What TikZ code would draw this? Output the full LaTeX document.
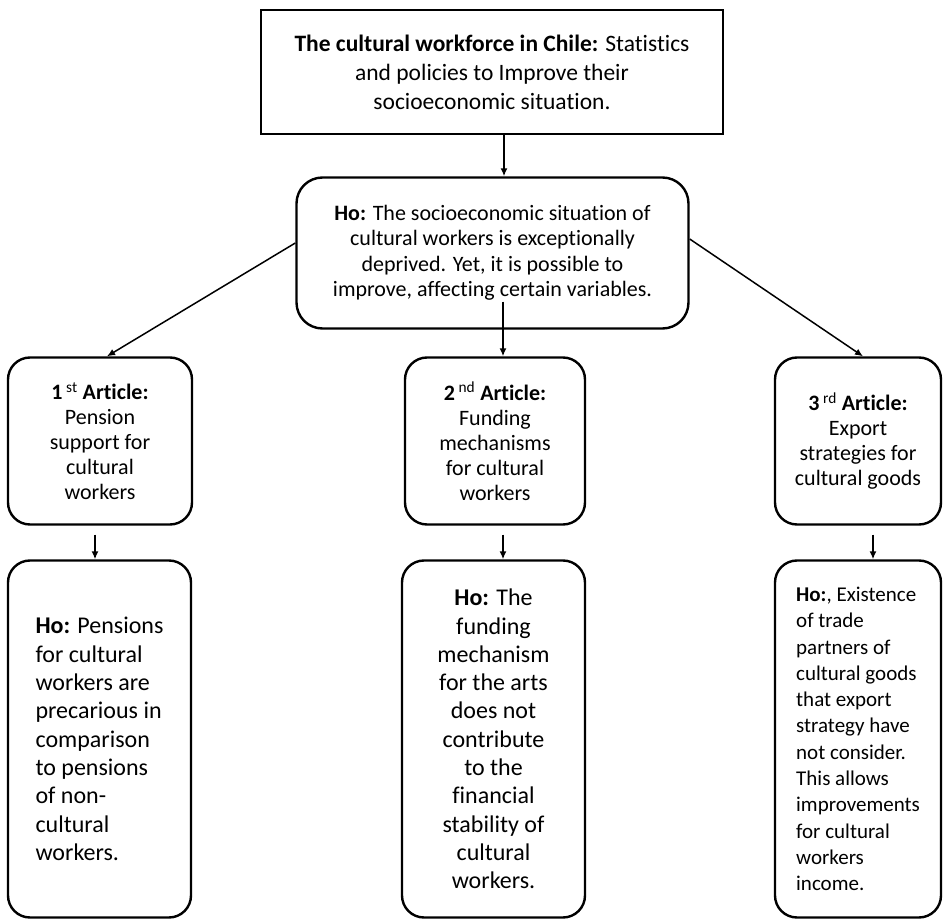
\documentclass[tikz,border=0pt]{standalone}
\usepackage{fontspec}
\setmainfont{Carlito}[Ligatures=NoCommon]
\usepackage{tikz}
\usetikzlibrary{calc}
\usetikzlibrary{arrows.meta}

\begin{document}
\begin{tikzpicture}[x=1pt,y=-1pt,
        box/.style={draw, line width=2.4pt, inner sep=0pt, align=center},
        rbox/.style={box, rounded corners=22pt},
        arr/.style={-{Latex[length=8pt,width=7pt]}, line width=1.5pt}]
    \useasboundingbox (0,0) rectangle (946,920);
    % title and main hypothesis
    \node[box, minimum width=462pt, minimum height=124pt,
          font=\fontsize{23.5}{29}\selectfont] (top) at (492,72)
         {\textbf{The cultural workforce in Chile:} Statistics\\and policies to Improve their\\socioeconomic situation.};
    \node[rbox, rounded corners=26pt, minimum width=392pt, minimum height=151pt,
          font=\fontsize{22}{25.5}\selectfont] (ho) at (492.5,253)
         {\textbf{Ho:} The socioeconomic situation of\\cultural workers is exceptionally\\deprived. Yet, it is possible to\\improve, affecting certain variables.};
    % articles
    \node[rbox, minimum width=184pt, minimum height=167pt,
          font=\fontsize{22}{25}\selectfont] (art1) at (100,441)
         {\textbf{1}\,\textsuperscript{st} \textbf{Article:}\\Pension\\support for\\cultural\\workers};
    \node[rbox, minimum width=180pt, minimum height=167pt,
          font=\fontsize{22}{25}\selectfont] (art2) at (495,441)
         {\textbf{2}\,\textsuperscript{nd} \textbf{Article:}\\Funding\\mechanisms\\for cultural\\workers};
    \node[rbox, minimum width=166pt, minimum height=167pt,
          font=\fontsize{22}{25}\selectfont] (art3) at (858,441)
         {\textbf{3}\,\textsuperscript{rd} \textbf{Article:}\\Export\\strategies for\\cultural goods};
    % hypotheses of each article
    \node[rbox, align=left, minimum width=183pt, minimum height=357pt,
          font=\fontsize{24}{28.3}\selectfont] (hyp1) at (99.5,739)
         {\textbf{Ho:} Pensions\\for cultural\\workers are\\precarious in\\comparison\\to pensions\\of non-\\cultural\\workers.};
    \node[rbox, minimum width=183pt, minimum height=357pt,
          font=\fontsize{24}{28.3}\selectfont] (hyp2) at (493.5,739)
         {\textbf{Ho:} The\\funding\\mechanism\\for the arts\\does not\\contribute\\to the\\financial\\stability of\\cultural\\workers.};
    \node[rbox, align=left, minimum width=166pt, minimum height=357pt,
          font=\fontsize{21}{26.3}\selectfont] (hyp3) at (858,739)
         {\textbf{Ho:}, Existence\\of trade\\partners of\\cultural goods\\that export\\strategy have\\not consider.\\This allows\\improvements\\for cultural\\workers\\income.};
    % connectors
    \draw[arr] ([xshift=12pt]top.south) -- ([xshift=11.5pt]ho.north);
    \draw[arr] ([yshift=10pt]ho.west) -- ([xshift=7pt]art1.north);
    \draw[arr] ([xshift=10.5pt,yshift=28pt]ho.south) -- ([xshift=8pt]art2.north);
    \draw[arr] ([yshift=14pt]ho.east) -- ([xshift=5pt]art3.north);
    \draw[arr] ([xshift=-5pt,yshift=-9pt]art1.south) -- ([xshift=-4.5pt]hyp1.north);
    \draw[arr] ([xshift=8pt,yshift=-9pt]art2.south) -- ([xshift=9.5pt]hyp2.north);
    \draw[arr] ([xshift=15pt,yshift=-9pt]art3.south) -- ([xshift=15pt]hyp3.north);
\end{tikzpicture}
\end{document}
